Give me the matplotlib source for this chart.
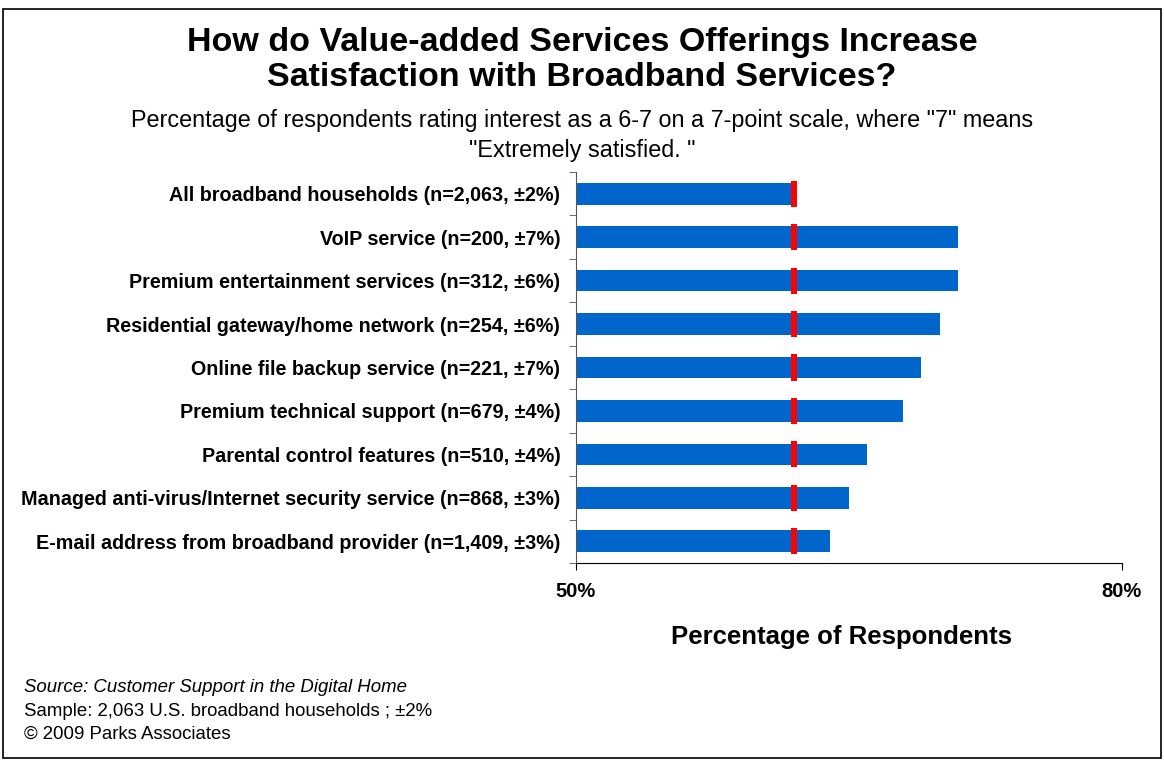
import matplotlib
matplotlib.use("Agg")
import matplotlib.pyplot as plt
from matplotlib.patches import Rectangle

plt.rcParams['font.family'] = ['Liberation Sans', 'DejaVu Sans']

categories = [
    "All broadband households (n=2,063, \u00b12%)",
    "VoIP service (n=200, \u00b17%)",
    "Premium entertainment services (n=312, \u00b16%)",
    "Residential gateway/home network (n=254, \u00b16%)",
    "Online file backup service (n=221, \u00b17%)",
    "Premium technical support (n=679, \u00b14%)",
    "Parental control features (n=510, \u00b14%)",
    "Managed anti-virus/Internet security service (n=868, \u00b13%)",
    "E-mail address from broadband provider (n=1,409, \u00b13%)",
]
values = [62, 71, 71, 70, 69, 68, 66, 65, 64]
baseline = 62  # all broadband households
x_ticks = [50, 80]
x_tick_labels = ["50%", "80%"]

W, H = 1164, 761
fig = plt.figure(figsize=(W / 100, H / 100), dpi=100)
ax = fig.add_axes([575.6 / W, 1 - 563 / H, (1121.7 - 575.6) / W, (563 - 172) / H])

n = len(categories)
ypos = list(range(n))
ax.barh(ypos, [v - 50 for v in values], left=50, height=0.5, color="#0066CC", zorder=2)

# dashed reference at the overall level, one dash per row
for y in ypos:
    ax.plot([baseline, baseline], [y - 0.3, y + 0.3], color="#FF0000", lw=4.3,
            solid_capstyle="butt", zorder=3)

ax.set_xlim(50, 80)
ax.set_ylim(n - 0.5, -0.5)
ax.set_xticks(x_ticks)
ax.set_xticklabels(x_tick_labels, fontsize=14.5, fontweight="bold")
ax.set_yticks(ypos)
ax.set_yticklabels(categories, fontsize=14.2, fontweight="bold")
ax.tick_params(axis="y", length=0, pad=11)
ax.set_yticks([i - 0.5 for i in range(n + 1)], minor=True)
ax.tick_params(axis="y", which="minor", length=5, color="#555555")
ax.tick_params(axis="x", length=5, pad=9, color="black")

for s in ["top", "right"]:
    ax.spines[s].set_visible(False)
ax.spines["left"].set_color("#555555")
ax.spines["bottom"].set_color("black")

ax.set_xlabel("Percentage of Respondents", fontsize=18.5, fontweight="bold")
ax.xaxis.set_label_coords(0.486, (563 - 637) / (563 - 172), transform=ax.transAxes)
ax.xaxis.label.set_va("center")

fig.text(0.5, 1 - 42 / H, "How do Value-added Services Offerings Increase",
         ha="center", va="center", fontsize=24.5, fontweight="bold")
fig.text(0.5, 1 - 78 / H, "Satisfaction with Broadband Services?",
         ha="center", va="center", fontsize=24.5, fontweight="bold")
fig.text(0.5, 1 - 121 / H,
         "Percentage of respondents rating interest as a 6-7 on a 7-point scale, where \"7\" means",
         ha="center", va="center", fontsize=16.8)
fig.text(0.5, 1 - 150 / H, "\"Extremely satisfied. \"",
         ha="center", va="center", fontsize=16.8)

fig.text(24 / W, 1 - 688 / H, "Source: Customer Support in the Digital Home",
         ha="left", va="center", fontsize=13.4, style="italic")
fig.text(24 / W, 1 - 711 / H, "Sample: 2,063 U.S. broadband households ; \u00b12%",
         ha="left", va="center", fontsize=13.4)
fig.text(24 / W, 1 - 734 / H, "\u00a9 2009 Parks Associates",
         ha="left", va="center", fontsize=13.4)

fig.patches.append(Rectangle((3 / W, 3 / H), (W - 6) / W, (H - 12) / H,
                             transform=fig.transFigure, fill=False,
                             edgecolor="black", lw=1.2))

fig.savefig("out.png", dpi=100)
